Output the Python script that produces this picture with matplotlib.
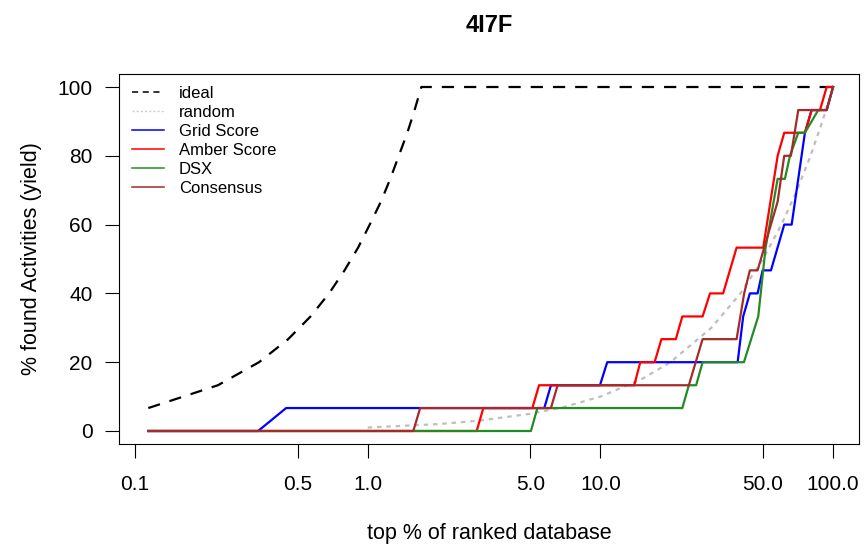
import numpy as np
import matplotlib
matplotlib.use('Agg')
import matplotlib.pyplot as plt
from matplotlib.lines import Line2D

plt.rcParams['font.family'] = ['Liberation Sans', 'DejaVu Sans']

# values (x = top % of database, y = % actives found)
ideal_x = [0.114, 0.227, 0.341, 0.455, 0.568, 0.682, 0.795, 0.909, 1.02, 1.14, 1.25, 1.36, 1.48, 1.59, 1.70, 100]
ideal_y = [6.67, 13.3, 20, 26.7, 33.3, 40, 46.7, 53.3, 60, 66.7, 73.3, 80, 86.7, 93.3, 100, 100]

rand_x = [1, 2, 3, 5, 7, 10, 15, 20, 30, 40, 50, 60, 70, 80, 90, 100]
rand_y = [1, 2, 3, 5, 7, 10, 15, 20, 30, 40, 50, 60, 70, 80, 90, 100]

grid_x = [0.114, 0.338, 0.446, 5.74, 6.13, 9.96, 10.7, 38.9, 41.1, 43.9, 47.4, 49.8, 54.1, 61.7, 66.4, 75.7, 80.9, 93.9, 100]
grid_y = [0, 0, 6.67, 6.67, 13.3, 13.3, 20, 20, 33.3, 40, 40, 46.7, 46.7, 60, 60, 86.7, 93.3, 93.3, 100]

amber_x = [0.114, 2.94, 3.14, 5.10, 5.45, 13.98, 14.84, 17.1, 18.3, 21.1, 22.5, 27.5, 29.6, 33.7, 38.5, 50.1,
           57.8, 61.7, 75.7, 80.9, 87.9, 93.9, 100]
amber_y = [0, 0, 6.67, 6.67, 13.3, 13.3, 20, 20, 26.7, 26.7, 33.3, 33.3, 40, 40, 53.3, 53.3,
           80, 86.7, 86.7, 93.3, 93.3, 100, 100]

dsx_x = [0.114, 5.03, 5.36, 22.5, 24.0, 25.8, 27.5, 41.4, 47.7, 51.3, 57.8, 62.1, 65.3, 70.9, 75.7, 86.4, 93.9, 100]
dsx_y = [0, 0, 6.67, 6.67, 13.3, 13.3, 20, 20, 33.3, 53.3, 73.3, 73.3, 80, 86.7, 86.7, 93.3, 93.3, 100]

cons_x = [0.114, 1.57, 1.68, 6.13, 6.55, 24.0, 27.5, 38.5, 41.5, 43.9, 47.4, 57.8, 61.7, 65.9, 70.9, 93.9, 100]
cons_y = [0, 0, 6.67, 6.67, 13.3, 13.3, 26.7, 26.7, 40, 46.7, 46.7, 66.7, 80, 80, 93.3, 93.3, 100]

xticks = [0.1, 0.5, 1.0, 5.0, 10.0, 50.0, 100.0]
xtick_labels = ['0.1', '0.5', '1.0', '5.0', '10.0', '50.0', '100.0']
yticks = [0, 20, 40, 60, 80, 100]

fig = plt.figure(figsize=(8.64, 5.46), dpi=100)
ax = fig.add_axes([119/864, 102/546, 740/864, 370/546])

lw = 1.6
ax.plot(ideal_x, ideal_y, color='black', lw=lw, linestyle=(0, (5.5, 4.5)))
ax.plot(rand_x, rand_y, color='#bebebe', lw=lw, linestyle=(0, (2, 2.2)))
ax.plot(grid_x, grid_y, color='blue', lw=lw)
ax.plot(amber_x, amber_y, color='red', lw=lw)
ax.plot(dsx_x, dsx_y, color='forestgreen', lw=lw)
ax.plot(cons_x, cons_y, color='brown', lw=lw)

ax.set_xscale('log')
ax.set_xlim(0.0853, 129.3)
ax.set_ylim(-3.78, 103.78)
ax.set_xticks(xticks)
ax.set_xticklabels(xtick_labels)
ax.xaxis.set_minor_locator(matplotlib.ticker.NullLocator())
ax.set_yticks(yticks)
ax.tick_params(axis='x', length=10, width=0.8, pad=12, labelsize=15)
ax.tick_params(axis='y', length=10, width=0.8, pad=9, labelsize=15)
for s in ax.spines.values():
    s.set_linewidth(0.8)

handles = [
    Line2D([], [], color='black', lw=1.1, linestyle=(0, (4, 3))),
    Line2D([], [], color='#cccccc', lw=1.0, linestyle=(0, (1.5, 1.5))),
    Line2D([], [], color='blue', lw=1.1),
    Line2D([], [], color='red', lw=1.1),
    Line2D([], [], color='forestgreen', lw=1.1),
    Line2D([], [], color='brown', lw=1.1),
]
labels = ['ideal', 'random', 'Grid Score', 'Amber Score', 'DSX', 'Consensus']
ax.legend(handles, labels, loc='upper left', bbox_to_anchor=(13/740, 1 - 12/370),
          frameon=False, fontsize=12, handlelength=1.9, handletextpad=0.9,
          labelspacing=0.24, borderpad=0, borderaxespad=0)

fig.text(489/864, 1 - 25/546, '4I7F', ha='center', va='center', fontsize=17, fontweight='bold')
fig.text(489/864, 1 - 533/546, 'top % of ranked database', ha='center', va='center', fontsize=15.5)
fig.text(32/864, 1 - 259/546, '% found Activities (yield)', ha='center', va='center', rotation=90, fontsize=15.5)

fig.savefig('out.png', dpi=100)
